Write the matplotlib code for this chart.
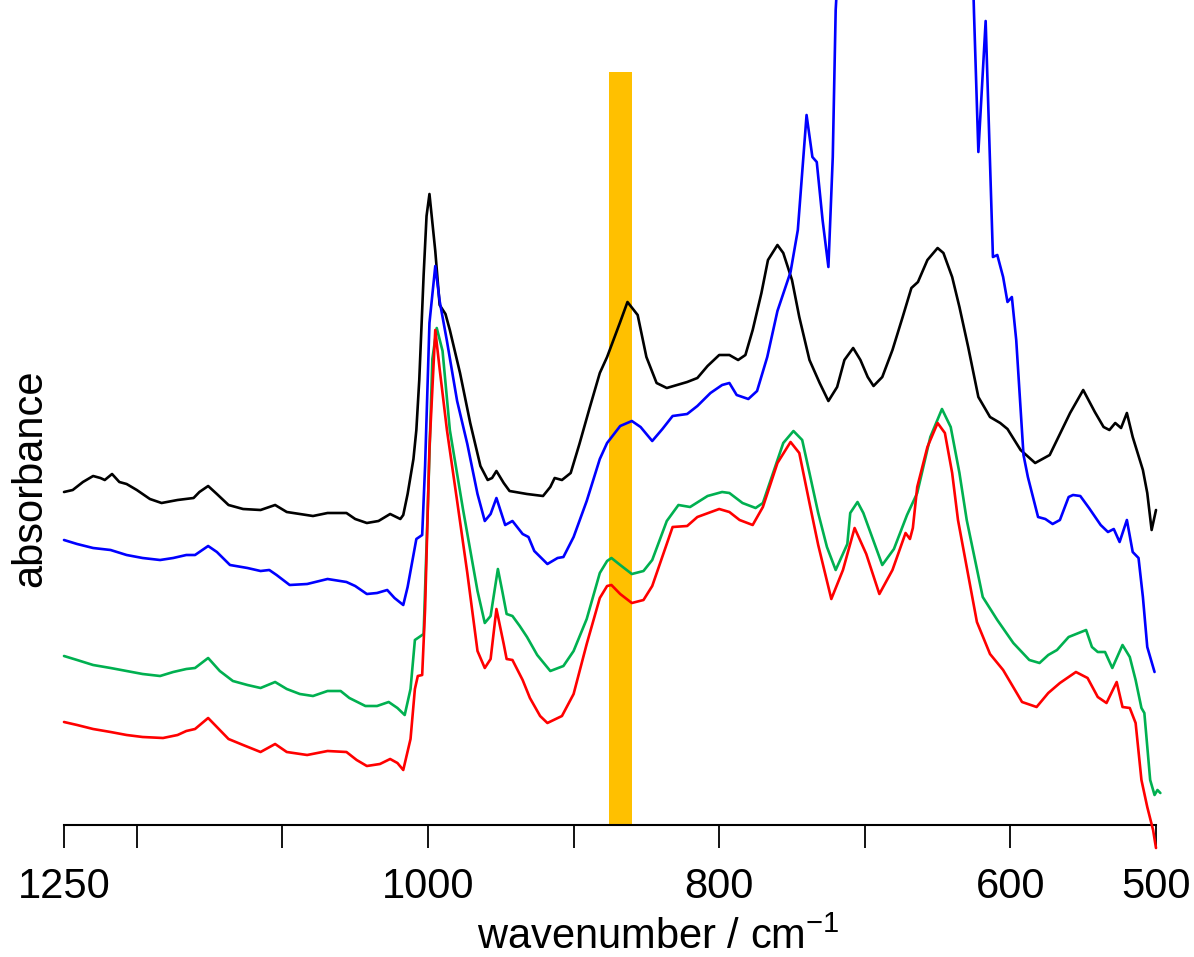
import matplotlib
matplotlib.use("Agg")
import matplotlib.pyplot as plt

plt.rcParams['font.family'] = ['Liberation Sans', 'DejaVu Sans']
plt.rcParams['mathtext.fontset'] = 'custom'
plt.rcParams['mathtext.rm'] = 'Liberation Sans'

# spectra, absorbance in arbitrary offset units
wn_black = [1250, 1244, 1237, 1230, 1225, 1222, 1217, 1212, 1207, 1200, 1191, 1183, 1172, 1161,
            1157, 1151, 1145, 1137, 1127, 1115, 1105, 1097, 1079, 1069, 1056, 1050, 1042, 1034,
            1026, 1019, 1017, 1014, 1010, 1008, 1006, 1003, 1001, 999, 995, 992, 988, 985, 978, 971,
            964, 959, 956, 953, 948, 944, 932, 921, 916, 913, 908, 902, 896, 889, 882, 877, 868,
            863, 856, 850, 843, 836, 822, 815, 808, 800, 793, 787, 782, 777, 771, 766.5, 760, 756,
            750, 745, 738, 731, 725, 719, 714, 708, 703, 698, 694, 688, 681, 674, 668, 663.5, 657,
            650, 646, 640, 635, 629, 622, 614, 607, 602,
            593, 583, 573, 559, 550, 542, 536, 532, 528, 524, 520, 516, 509, 506, 503, 500]
abs_black = [3.33, 3.35, 3.43, 3.49, 3.47, 3.45, 3.51, 3.43, 3.41, 3.35, 3.26, 3.22, 3.25, 3.27,
             3.33, 3.39, 3.31, 3.20, 3.16, 3.15, 3.20, 3.13, 3.09, 3.12, 3.12, 3.06, 3.02, 3.04,
             3.11, 3.06, 3.10, 3.31, 3.66, 3.95, 4.45, 5.50, 6.09, 6.31, 5.74, 5.20, 5.11, 4.95, 4.52, 4.02,
             3.59, 3.45, 3.47, 3.54, 3.42, 3.34, 3.31, 3.29, 3.38, 3.47, 3.45, 3.52, 3.81, 4.17, 4.52, 4.68, 5.03,
             5.23, 5.10, 4.68, 4.42, 4.37, 4.43, 4.47, 4.59, 4.70, 4.70, 4.65, 4.70, 4.95, 5.32, 5.65, 5.80, 5.72,
             5.45, 5.08, 4.65, 4.42, 4.24, 4.38, 4.65, 4.77, 4.65, 4.48, 4.39, 4.48, 4.75, 5.08, 5.37, 5.43, 5.65,
             5.77, 5.72, 5.48, 5.18, 4.78, 4.28, 4.08, 4.02, 3.96,
             3.75, 3.62, 3.70, 4.12, 4.35, 4.13, 3.98, 3.95, 4.02, 3.97, 4.12, 3.88, 3.55, 3.32, 2.95, 3.15]

wn_blue = [1250, 1241, 1230, 1218, 1207, 1196, 1184, 1175, 1166, 1160, 1151, 1145, 1136, 1124,
           1115, 1109, 1104, 1095, 1083, 1069, 1056, 1050, 1042, 1035, 1028, 1023, 1017, 1014,
           1010, 1008, 1004, 1002, 999, 995, 992, 987, 980, 973, 966, 961, 957, 953, 947, 942,
           935, 931, 927, 918, 911, 907, 900, 891, 882, 877, 868, 860, 854, 846, 839, 832, 822,
           815, 806, 798, 793, 788, 780, 774, 767, 760, 751, 746, 740, 736, 733, 729, 725, 722,
           720, 716, 627, 625, 622, 617, 612, 609, 605, 602, 599, 596, 591, 588, 581, 576, 571,
           566, 560, 557, 552, 546, 538, 533, 529, 525, 520, 516, 512, 509, 506, 501]
abs_blue = [2.85, 2.81, 2.77, 2.75, 2.70, 2.67, 2.65, 2.67, 2.70, 2.70, 2.79, 2.73, 2.60, 2.57,
            2.54, 2.55, 2.50, 2.40, 2.41, 2.46, 2.43, 2.39, 2.31, 2.32, 2.35, 2.27, 2.20, 2.38,
            2.70, 2.86, 2.90, 3.59, 5.02, 5.59, 5.24, 4.84, 4.24, 3.81, 3.31, 3.04, 3.11, 3.27, 3.00, 3.04,
            2.91, 2.88, 2.74, 2.61, 2.67, 2.68, 2.88, 3.24, 3.66, 3.82, 3.99, 4.04, 3.98, 3.84, 3.96, 4.09, 4.11,
            4.19, 4.32, 4.40, 4.42, 4.30, 4.26, 4.34, 4.68, 5.14, 5.53, 5.95, 7.10, 6.68, 6.63, 6.05, 5.58, 6.68,
            8.15, 9.20, 9.20, 8.12, 6.73, 8.04, 5.68, 5.70, 5.48, 5.23, 5.28, 4.85, 3.70, 3.48, 3.08, 3.06, 3.01,
            3.05, 3.28, 3.30, 3.29, 3.17, 3.00, 2.93, 2.96, 2.83, 3.05, 2.73, 2.67, 2.28, 1.78, 1.53]

wn_green = [1250, 1241, 1230, 1218, 1207, 1196, 1184, 1175, 1166, 1160, 1151, 1143, 1134, 1124,
            1115, 1105, 1097, 1088, 1079, 1069, 1060, 1054, 1043, 1035, 1027, 1021, 1016, 1012,
            1009, 1006, 1003, 1000, 997, 994, 990, 985, 976, 966, 961, 957, 952, 949, 946, 942,
            937, 932, 925, 916, 907, 900, 891, 882, 877, 874, 868, 860, 852, 846, 836, 828, 820,
            808, 798, 793, 784, 775, 770, 763, 756, 749, 743, 738, 732, 726, 720, 712, 710, 705,
            701, 693, 688, 680, 671, 664, 655, 647, 641, 635, 630, 619, 609, 598, 587, 580, 574,
            568, 560, 548, 544, 540, 535, 530, 523, 518, 514, 510, 508, 504, 501, 499, 497]
abs_green = [1.69, 1.65, 1.60, 1.57, 1.54, 1.51, 1.49, 1.53, 1.56, 1.57, 1.67, 1.54, 1.44, 1.40,
             1.37, 1.43, 1.36, 1.31, 1.29, 1.34, 1.34, 1.27, 1.19, 1.19, 1.23, 1.17, 1.10, 1.36,
             1.85, 1.88, 1.91, 3.24, 4.66, 4.97, 4.74, 3.95, 3.16, 2.34, 2.02, 2.09, 2.56, 2.34, 2.11, 2.09,
             1.99, 1.88, 1.70, 1.54, 1.59, 1.74, 2.06, 2.52, 2.64, 2.67, 2.60, 2.51, 2.54, 2.65, 3.04, 3.20, 3.18,
             3.29, 3.33, 3.32, 3.22, 3.17, 3.22, 3.52, 3.82, 3.94, 3.85, 3.52, 3.12, 2.78, 2.55, 2.81, 3.12, 3.23,
             3.12, 2.80, 2.60, 2.76, 3.10, 3.32, 3.88, 4.16, 3.98, 3.52, 3.05, 2.28, 2.05, 1.82, 1.65, 1.62, 1.70,
             1.75, 1.88, 1.95, 1.78, 1.73, 1.73, 1.57, 1.80, 1.68, 1.45, 1.17, 1.12, 0.45, 0.30, 0.35, 0.32]

wn_red = [1250, 1241, 1230, 1218, 1207, 1196, 1182, 1172, 1166, 1160, 1151, 1145, 1137, 1127,
          1115, 1105, 1097, 1083, 1069, 1056, 1049, 1042, 1033, 1026, 1021, 1017, 1012, 1009,
          1007, 1004, 1002, 999, 995, 992, 987, 980, 973, 966, 961, 957, 953, 948, 946, 942,
          935, 930, 923, 918, 908, 900, 891, 882, 877, 874, 868, 860, 852, 846, 832, 822, 815,
          800, 793, 786, 777, 770, 760, 751, 745, 738, 732, 723, 715, 707, 699, 690, 681, 672,
          669, 667, 664, 657, 650, 645, 640, 636, 623, 614, 605, 592, 582, 574, 566, 555, 547,
          540, 534, 527, 523, 518, 514, 510, 506, 502, 500]
abs_red = [1.03, 1.00, 0.96, 0.93, 0.90, 0.88, 0.87, 0.90, 0.94, 0.96, 1.07, 0.98, 0.86, 0.80,
           0.73, 0.81, 0.73, 0.70, 0.74, 0.73, 0.65, 0.59, 0.61, 0.66, 0.62, 0.55, 0.86, 1.36,
           1.49, 1.50, 2.16, 3.77, 4.95, 4.56, 3.95, 3.24, 2.52, 1.74, 1.57, 1.66, 2.16, 1.81, 1.66, 1.65,
           1.45, 1.27, 1.09, 1.02, 1.09, 1.31, 1.81, 2.27, 2.39, 2.40, 2.31, 2.22, 2.25, 2.39, 2.98, 2.99, 3.08,
           3.16, 3.13, 3.05, 3.00, 3.18, 3.62, 3.83, 3.72, 3.22, 2.80, 2.26, 2.55, 2.97, 2.71, 2.31, 2.55, 2.92,
           2.86, 2.97, 3.38, 3.78, 4.02, 3.92, 3.52, 3.05, 2.03, 1.71, 1.55, 1.23, 1.18, 1.32, 1.42, 1.53, 1.47,
           1.28, 1.22, 1.43, 1.18, 1.17, 1.02, 0.45, 0.18, -0.05, -0.23]

band = (860, 876)
band_top = 7.53

tick_pos = [1250, 1200, 1100, 1000, 900, 800, 700, 600, 500]
tick_lab = ['1250', '', '', '1000', '', '800', '', '600', '500']

W, H = 1194, 957
fig = plt.figure(figsize=(W / 100, H / 100), dpi=100)
ax = fig.add_axes([64 / W, (H - 825) / H, (1156 - 64) / W, 825 / H])
ax.set_xlim(1250, 500)
ax.set_ylim(0, 8.25)

ax.axvspan(band[0], band[1], ymin=0, ymax=band_top / 8.25, color='#FFC000', lw=0, zorder=1)

lw = 1.9
for wn, ab, col in [(wn_black, abs_black, 'black'), (wn_blue, abs_blue, '#0000FF'),
                    (wn_green, abs_green, '#00B050'), (wn_red, abs_red, '#FF0000')]:
    ax.plot(wn, ab, color=col, lw=lw, clip_on=False, zorder=3,
            solid_joinstyle='round', solid_capstyle='round')

for s in ['top', 'right', 'left']:
    ax.spines[s].set_visible(False)
ax.spines['bottom'].set_linewidth(1.5)
ax.set_yticks([])
ax.set_xticks(tick_pos)
ax.set_xticklabels(tick_lab)
ax.tick_params(axis='x', length=16.5, width=1.3, labelsize=30, pad=14)

fig.text(30 / W, 1 - 478 / H, 'absorbance', rotation=90, ha='center', va='center', fontsize=30)
fig.text(658 / W, 1 - 949 / H, r'wavenumber / cm$^{-1}$', ha='center', va='baseline', fontsize=30)

fig.savefig('out.png', dpi=100)
